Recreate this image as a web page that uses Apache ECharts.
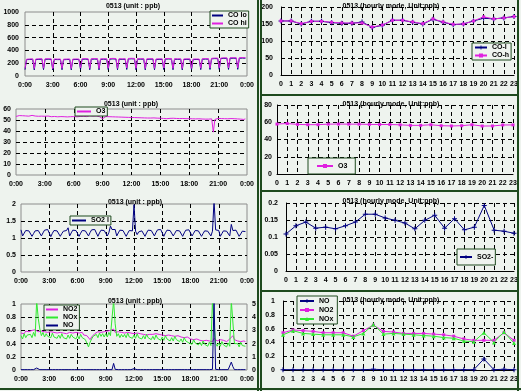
<!DOCTYPE html>
<html><head><meta charset="utf-8">
<script src="https://cdn.jsdelivr.net/npm/echarts@6/dist/echarts.min.js"></script>
<style>html,body{margin:0;padding:0;background:#eef3ee}#c{width:521px;height:391px}</style>
</head><body><div id="c"></div>
<script>
// ---- tick labels ----
const timeTickLabels = ['0:00','3:00','6:00','9:00','12:00','15:00','18:00','21:00','0:00'];
const hourLabels = ['0','1','2','3','4','5','6','7','8','9','10','11','12','13','14','15','16','17','18','19','20','21','22','23'];

// ---- 10-minute data (144 samples, 0:00 .. 23:50) ----
const coHi = [
120,262,266,264,268,265, 118,265,268,266,270,267, 122,268,270,266,268,270, 115,266,264,268,265,266,
120,262,265,263,266,264, 118,264,266,262,265,266, 125,268,272,270,268,270, 120,270,272,268,271,270,
118,268,270,272,269,270, 122,272,275,270,273,272, 120,270,268,272,270,271, 125,274,276,272,275,274,
120,272,270,274,272,270, 118,268,270,268,271,270, 120,266,268,270,268,267, 124,272,274,270,273,272,
120,270,268,271,269,270, 118,266,268,265,267,268, 120,264,266,268,265,266, 122,270,272,268,271,270,
125,276,280,278,279,280, 128,280,284,282,283,282, 126,284,286,283,285,286, 128,285,288,284,286,285];
const coLo = [
98,255,258,256,260,257, 96,257,260,258,262,259, 100,260,262,258,260,262, 94,258,256,260,257,258,
98,254,257,255,258,256, 96,256,258,254,257,258, 102,260,264,262,260,262, 98,262,264,260,263,262,
96,260,262,264,261,262, 100,264,267,262,265,264, 98,262,260,264,262,263, 102,266,268,264,267,266,
98,264,262,266,264,262, 96,260,262,260,263,262, 98,258,260,262,260,259, 101,264,266,262,265,264,
98,262,260,263,261,262, 96,258,260,257,259,260, 98,256,258,260,257,258, 100,262,264,260,263,262,
102,268,272,270,271,272, 104,272,276,274,275,274, 103,276,278,275,277,278, 104,277,280,276,278,277];
const o3 = [
53.2,53.8,54.0,53.6,53.9,54.1, 53.7,54.0,53.5,53.8,54.2,53.9, 53.6,53.9,53.4,53.7,53.5,53.8, 53.4,53.1,53.6,53.3,53.0,53.5,
53.2,53.4,52.9,53.3,53.1,53.4, 53.0,53.3,52.8,53.2,53.0,53.3, 53.1,53.4,52.9,53.5,53.2,53.0, 53.3,53.6,53.1,53.4,53.8,53.2,
53.5,53.2,53.7,53.4,53.0,52.6, 51.2,52.8,53.1,52.7,53.0,52.6, 52.9,52.5,52.8,52.4,52.7,52.3, 52.6,52.2,52.5,52.0,52.4,52.1,
52.3,51.9,52.2,51.8,52.1,51.7, 52.0,51.6,51.9,51.5,51.8,51.4, 51.8,51.5,51.9,51.4,51.7,51.3, 51.6,51.9,51.4,51.7,51.2,51.6,
51.5,51.2,51.6,51.1,51.4,51.0, 51.3,51.0,51.4,50.9,51.2,50.8, 51.2,50.6,51.1,49.8,51.0,50.7, 51.1,50.5,50.9,49.9,50.8,51.0,
50.8,50.4,51.0,39.0,50.5,51.2, 51.4,51.0,51.3,50.9,51.2,50.8, 51.1,50.0,51.3,50.9,51.2,50.7, 51.0,51.3,50.8,51.2,50.5,51.0];
const so2 = [
1.24,1.06,1.14,1.22,1.25,1.21, 1.23,1.05,1.13,1.21,1.26,1.22, 1.24,1.06,1.15,1.23,1.20,1.25, 1.22,1.04,1.14,1.22,1.25,1.21,
1.23,1.05,1.13,1.20,1.24,1.22, 1.30,1.06,1.15,1.23,1.26,1.22, 1.24,1.05,1.14,1.22,1.25,1.21, 1.23,1.06,1.16,1.24,1.21,1.25,
1.22,1.05,1.15,1.23,1.26,1.22, 1.24,1.06,1.16,1.35,1.25,1.23, 1.25,1.06,1.15,1.23,1.26,1.22, 1.23,1.05,1.14,1.22,1.25,1.21,
1.98,1.20,1.10,1.18,1.23,1.21, 1.24,1.05,1.15,1.23,1.27,1.22, 1.23,1.06,1.16,1.24,1.21,1.25, 1.30,1.05,1.15,1.23,1.26,1.22,
1.24,1.06,1.14,1.22,1.25,1.21, 1.23,1.05,1.15,1.23,1.20,1.24, 1.22,1.06,1.14,1.22,1.25,1.21, 1.23,1.05,1.13,1.21,1.24,1.20,
1.22,1.06,1.20,2.10,1.24,1.21, 1.22,1.05,1.13,1.21,1.24,1.20, 1.23,1.06,1.40,1.22,1.19,1.23, 1.21,1.05,1.12,1.20,1.23,1.19];
const no2 = [
.56,.58,.55,.59,.57,.58, .58,.60,.57,.61,.59,.58, .57,.59,.56,.58,.60,.57, .56,.58,.55,.57,.59,.56,
.55,.57,.54,.56,.58,.55, .55,.57,.54,.56,.55,.57, .54,.56,.55,.57,.53,.55, .52,.49,.46,.50,.53,.55,
.56,.58,.55,.57,.59,.58, .57,.59,.58,.60,.58,.62, .57,.55,.58,.56,.57,.55, .56,.54,.57,.55,.56,.54,
.55,.53,.56,.54,.55,.53, .54,.56,.53,.55,.54,.52, .54,.52,.55,.53,.54,.52, .53,.55,.52,.54,.53,.51,
.52,.54,.51,.53,.52,.50, .50,.52,.49,.51,.50,.48, .47,.49,.46,.48,.47,.45, .45,.47,.44,.46,.45,.44,
.44,.46,.43,.48,.45,.44, .44,.46,.43,.45,.44,.43, .45,.47,.48,.52,.46,.45, .44,.46,.43,.45,.44,.43];
const nox = [
.52,.47,.55,.49,.53,.50, .54,.49,.57,.51,1.05,.78, .62,.52,.57,.50,.55,.51, .54,.49,.56,.50,.53,.48,
.53,.48,.55,.49,.52,.47, .53,.48,.54,.50,.52,.47, .52,.47,.54,.49,.51,.46, .48,.35,.42,.47,.51,.49,
.54,.49,.56,.51,.55,.50, .55,.50,.57,.52,.54,1.05, .70,.51,.55,.49,.54,.50, .54,.49,.56,.50,.53,.48,
.53,.48,.55,.49,.52,.47, .52,.47,.54,.49,.51,.46, .51,.46,.53,.48,.50,.45, .50,.45,.52,.47,.49,.44,
.49,.44,.51,.46,.48,.43, .47,.42,.49,.44,.46,.41, .44,.39,.46,.41,.43,.38, .42,.37,.44,.39,.41,.36,
.42,.37,1.05,1.05,.40,.36, .41,.36,.43,.38,.40,.35, .41,.36,1.05,1.05,.40,.37, .40,.35,.42,.37,.39,.36];
const no = [
.005,.005,.005,.005,.005,.005, .005,.005,.005,.005,.03,.01, .005,.005,.005,.005,.005,.005, .005,.005,.005,.005,.005,.005,
.005,.005,.005,.005,.005,.005, .005,.005,.005,.005,.005,.005, .005,.005,.005,.005,.005,.005, .005,.005,.005,.005,.005,.005,
.005,.005,.005,.005,.005,.005, .005,.005,.005,.005,.005,.10, .01,.005,.005,.005,.005,.005, .005,.005,.005,.005,.005,.005,
.02,.005,.005,.005,.005,.005, .005,.005,.005,.005,.005,.005, .005,.005,.005,.01,.005,.005, .005,.005,.005,.005,.005,.005,
.005,.005,.005,.005,.005,.005, .005,.005,.005,.005,.005,.005, .005,.005,.005,.005,.005,.005, .005,.005,.005,.005,.005,.005,
.005,.005,.01,1.05,.01,.005, .005,.005,.005,.005,.005,.005, .005,.005,.12,.05,.005,.005, .005,.005,.005,.005,.005,.005];

// ---- hourly means ----
const coLH = [159,159,150,158,158,154,152,152,156,140,146,161,161,155,150,164,155,148,150,159,167,165,168,172];
const coHH = [159,159,151,158,158,155,153,153,153,141,147,161,161,156,151,165,156,149,150,159,171,165,168,172];
const o3H = [57.9,58.5,57.5,57.2,57.2,57.8,57.9,57.8,57.8,57.5,57.4,57.4,57.0,56.4,56.4,57.1,56.0,55.7,56.0,57.1,55.6,55.7,56.8,56.9];
const so2H = [0.109,0.133,0.144,0.126,0.129,0.124,0.133,0.144,0.167,0.167,0.156,0.149,0.141,0.124,0.149,0.164,0.126,0.154,0.121,0.129,0.193,0.120,0.117,0.111];
const noH = [0.005,0.005,0.005,0.005,0.005,0.005,0.005,0.005,0.005,0.01,0.005,0.005,0.005,0.005,0.005,0.005,0.005,0.005,0.005,0.005,0.16,0.005,0.01,0.005];
const no2H = [0.54,0.58,0.57,0.56,0.54,0.54,0.54,0.49,0.57,0.65,0.56,0.55,0.53,0.53,0.53,0.52,0.51,0.49,0.45,0.43,0.43,0.43,0.54,0.43];
const noxH = [0.51,0.57,0.53,0.52,0.51,0.51,0.51,0.48,0.53,0.66,0.52,0.53,0.52,0.51,0.50,0.49,0.47,0.46,0.42,0.41,0.54,0.40,0.55,0.39];

// ---- styling ----
const FONT = 'Liberation Sans';
const FS = 7;
const FW = 'bold';
const NAVY = '#000080', MAG = '#e020e0', GRN = '#30e830';
const BG = '#eef3ee', FRAME = '#1e4a1e';
const DASH = [4, 3];
const PLUS = 'path://M4,0H6V4H10V6H6V10H4V6H0V4H4Z';
const toPairs = arr => arr.map((v, i) => [i / 6, v]);

const lbl = (m) => ({fontSize: FS, fontFamily: FONT, fontWeight: FW, color: '#000', margin: m, formatter: v => String(v)});
const dashed = {show: true, showMinLine: false, showMaxLine: false, lineStyle: {color: '#000', type: DASH, width: 1}};
const dashedAll = {show: true, interval: 0, lineStyle: {color: '#000', type: DASH, width: 1}};

function timeX(gi) {
  return {type: 'value', gridIndex: gi, min: 0, max: 24, interval: 3,
    axisLine: {show: false}, axisTick: {show: false},
    axisLabel: Object.assign(lbl(6), {formatter: v => timeTickLabels[Math.round(v / 3)]}),
    splitLine: dashed};
}
function leftY(gi, max, interval, m) {
  return {type: 'value', gridIndex: gi, min: 0, max: max, interval: interval,
    axisLine: {show: false}, axisTick: {show: false}, axisLabel: lbl(m), splitLine: dashed};
}
function hourX(gi) {
  return {type: 'category', gridIndex: gi, data: hourLabels, boundaryGap: false,
    axisLine: {show: true, lineStyle: {color: '#000', width: 1}}, axisTick: {show: false},
    axisLabel: Object.assign(lbl(6), {interval: 0, formatter: null}), splitLine: dashedAll};
}
function hourY(gi, max, interval, m) {
  return {type: 'value', gridIndex: gi, min: 0, max: max, interval: interval,
    axisLine: {show: true, lineStyle: {color: '#000', width: 1}}, axisTick: {show: false},
    axisLabel: lbl(m), splitLine: {show: true, lineStyle: {color: '#000', type: DASH, width: 1}}};
}
const leftGrid = (l, t, w, h) => ({left: l, top: t, width: w, height: h, show: true, borderColor: '#8c8c8c', borderWidth: 1, backgroundColor: 'transparent'});
const rightGrid = (l, t, w, h) => ({left: l, top: t, width: w, height: h});

function legend(names, left, top, lh, iw, extra) {
  return Object.assign({data: names, left: left, top: top, orient: 'vertical',
    itemWidth: iw, itemHeight: 5, itemGap: 1, padding: [1, 2, 1, 2],
    backgroundColor: BG, borderColor: FRAME, borderWidth: 1, borderRadius: 0,
    textStyle: {fontSize: FS, fontFamily: FONT, fontWeight: FW, color: '#000', lineHeight: lh}, selectedMode: false}, extra || {});
}
const thinLine = {icon: 'rect', itemHeight: 2};
function lineSeries(name, data, color, xi, yi, extra) {
  return Object.assign({type: 'line', name: name, data: data, xAxisIndex: xi, yAxisIndex: yi,
    symbol: 'none', color: color, lineStyle: {color: color, width: 1}, itemStyle: {color: color}, silent: true}, extra || {});
}
function hourSeries(name, data, color, xi, yi, sym, size) {
  return {type: 'line', name: name, data: data, xAxisIndex: xi, yAxisIndex: yi,
    symbol: sym, symbolSize: size, showAllSymbol: true, color: color,
    lineStyle: {color: color, width: 1}, itemStyle: {color: color}, silent: true};
}

const titleL = '0513 (unit : ppb)';
const titleR = '0513 (hourly mode, Unit:ppb)';
function txt(s, x, y) {
  return {type: 'text', x: x, y: y, z: 50, style: {text: s, fill: '#000', font: FW + ' ' + FS + 'px ' + FONT, align: 'center', verticalAlign: 'middle', textAlign: 'center', textVerticalAlign: 'middle'}};
}
function ln(x1, y1, x2, y2, w) {
  return {type: 'line', z: 60, shape: {x1: x1, y1: y1, x2: x2, y2: y2}, style: {stroke: FRAME, lineWidth: w}};
}

const option = {
  animation: false,
  backgroundColor: BG,
  grid: [
    leftGrid(25, 12, 222, 64),
    leftGrid(16, 109, 231, 66),
    leftGrid(21, 204, 226, 68),
    leftGrid(21, 304, 226, 66),
    rightGrid(281, 7, 233, 68),
    rightGrid(277, 105, 236, 69),
    rightGrid(286, 203, 228, 68),
    rightGrid(283, 301, 231, 69)
  ],
  xAxis: [timeX(0), timeX(1), timeX(2), timeX(3), hourX(4), hourX(5), hourX(6), hourX(7)],
  yAxis: [
    leftY(0, 1000, 200, 6),
    leftY(1, 60, 10, 5),
    leftY(2, 2, 0.5, 5),
    leftY(3, 1, 0.2, 5),
    {type: 'value', gridIndex: 3, position: 'right', min: 0, max: 5, interval: 1,
      axisLine: {show: false}, axisTick: {show: false}, axisLabel: lbl(5), splitLine: {show: false}},
    hourY(4, 200, 50, 8),
    hourY(5, 80, 20, 5),
    hourY(6, 0.2, 0.05, 8),
    hourY(7, 1, 0.2, 8)
  ],
  legend: [
    legend(['CO lo', 'CO hi'], 210, 11, 6, 11, thinLine),
    legend(['O3'], 75, 107, 7, 14, thinLine),
    legend(['SO2 l'], 70, 216, 7, 14, thinLine),
    legend(['NO2', 'NOx', 'NO'], 44, 305, 7, 12, thinLine),
    legend(['CO-l', 'CO-h'], 472, 43, 7, 12),
    legend(['O3 '], 308, 158, 14, 16, {padding: [1, 6, 1, 8]}),
    legend(['SO2-'], 457, 249, 14, 12),
    legend(['NO ', 'NO2 ', 'NOx '], 297, 296, 8, 14)
  ],
  series: [
    lineSeries('CO lo', toPairs(coLo), NAVY, 0, 0, {step: 'end'}),
    lineSeries('CO hi', toPairs(coHi), MAG, 0, 0, {step: 'end'}),
    lineSeries('O3', toPairs(o3), MAG, 1, 1),
    lineSeries('SO2 l', toPairs(so2), NAVY, 2, 2),
    lineSeries('NO2', toPairs(no2), MAG, 3, 3),
    lineSeries('NOx', toPairs(nox), GRN, 3, 3),
    lineSeries('NO', toPairs(no), NAVY, 3, 3),
    hourSeries('CO-l', coLH, NAVY, 4, 5, PLUS, 5),
    hourSeries('CO-h', coHH, MAG, 4, 5, 'rect', 3),
    hourSeries('O3 ', o3H, MAG, 5, 6, 'rect', 3),
    hourSeries('SO2-', so2H, NAVY, 6, 7, PLUS, 5),
    hourSeries('NO ', noH, NAVY, 7, 8, PLUS, 5),
    hourSeries('NO2 ', no2H, MAG, 7, 8, 'rect', 3),
    hourSeries('NOx ', noxH, GRN, 7, 8, 'triangle', 4)
  ],
  graphic: [
    txt(titleL, 133, 6), txt(titleL, 131, 104), txt(titleL, 135, 202), txt(titleL, 135, 301),
    txt(titleR, 391, 6), txt(titleR, 391, 104), txt(titleR, 391, 201), txt(titleR, 391, 300),
    ln(258, 0, 258, 391, 2),
    ln(261, 0, 261, 391, 2),
    ln(518, 0, 518, 391, 2),
    ln(261, 95, 518, 95, 2),
    ln(261, 191, 518, 191, 2),
    ln(261, 291, 518, 291, 2),
    ln(0, 389, 521, 389, 2)
  ]
};
const chart = echarts.init(document.getElementById('c'), null, {renderer: 'canvas'});
chart.setOption(option);
</script></body></html>
